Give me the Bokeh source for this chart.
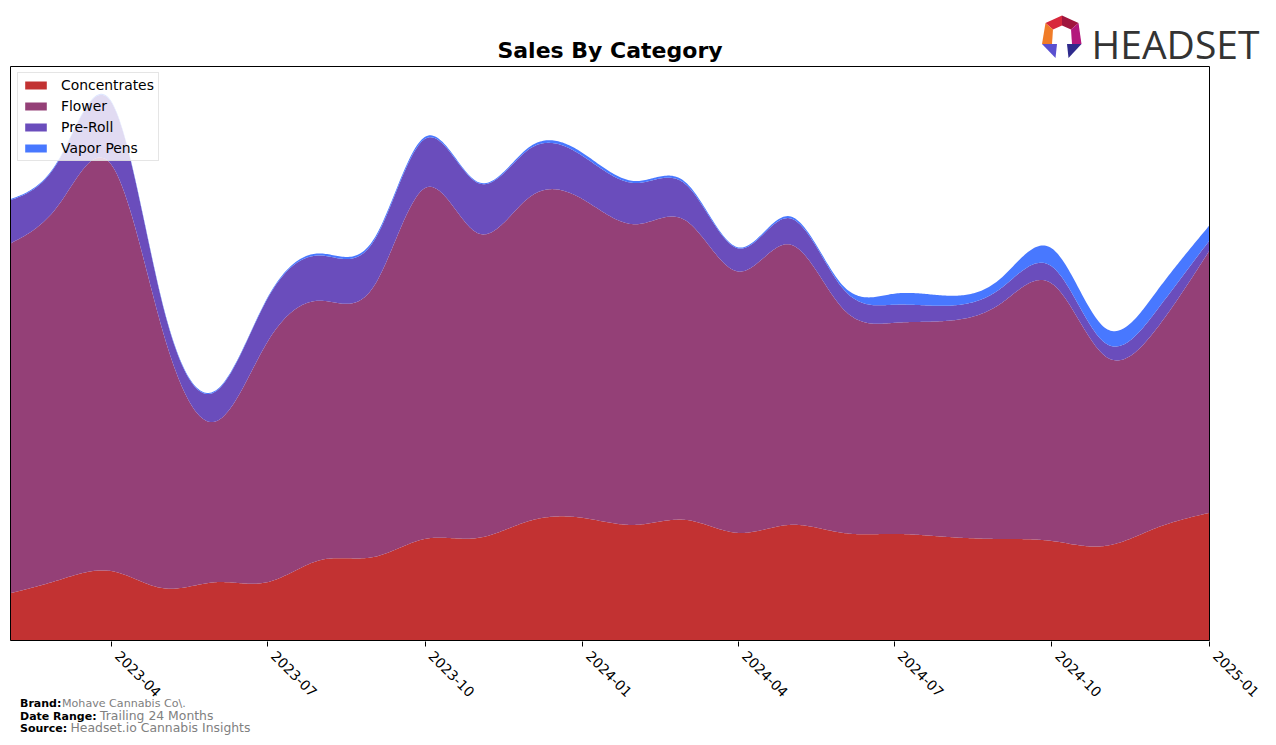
import numpy as np
import pandas as pd
from bokeh.plotting import figure
from bokeh.layouts import column
from bokeh.models import (Range1d, FixedTicker, DatetimeTickFormatter, BoxAnnotation,
                          Legend, LegendItem, ColumnDataSource, DatetimeAxis)
from bokeh.core.properties import value
from bokeh.embed import file_html
from bokeh.resources import INLINE

# ---------------- data ----------------
months = ["2023-02", "2023-03", "2023-04", "2023-05", "2023-06", "2023-07",
          "2023-08", "2023-09", "2023-10", "2023-11", "2023-12", "2024-01",
          "2024-02", "2024-03", "2024-04", "2024-05", "2024-06", "2024-07",
          "2024-08", "2024-09", "2024-10", "2024-11", "2024-12", "2025-01"]
concentrates = [47, 60, 69, 52, 58, 58, 80, 83, 101, 102, 119, 122,
                115, 120, 107, 115, 107, 106, 103, 101, 99, 94, 112, 127]
flower = [348, 373, 404, 255, 160, 239, 258, 269, 349, 303, 322, 317,
          299, 298, 260, 279, 223, 210, 215, 234, 256, 189, 198, 261]
pre_roll = [43, 44, 62, 26, 30, 43, 45, 45, 49, 50, 48, 43,
            41, 36, 23, 26, 20, 18, 15, 15, 17, 13, 18, 10]
vapor_pens = [1, 1, 1, 1, 1, 1, 2, 2, 2, 1, 2, 3,
              2, 2, 1, 2, 3, 11, 10, 10, 18, 15, 19, 15]
categories = ["Concentrates", "Flower", "Pre-Roll", "Vapor Pens"]
tick_labels = ["2023-04", "2023-07", "2023-10", "2024-01",
               "2024-04", "2024-07", "2024-10", "2025-01"]

colors = ["#c23232", "#944077", "#6a4dbc", "#4878ff"]
FONT = "DejaVu Sans"


def spline(xk, yk, xs):
    """natural cubic spline"""
    xk = np.asarray(xk, float)
    yk = np.asarray(yk, float)
    n = len(xk)
    h = np.diff(xk)
    A = np.zeros((n, n))
    b = np.zeros(n)
    A[0, 0] = 1.0
    A[-1, -1] = 1.0
    for i in range(1, n - 1):
        A[i, i - 1] = h[i - 1]
        A[i, i] = 2 * (h[i - 1] + h[i])
        A[i, i + 1] = h[i]
        b[i] = 6 * ((yk[i + 1] - yk[i]) / h[i] - (yk[i] - yk[i - 1]) / h[i - 1])
    M = np.linalg.solve(A, b)
    idx = np.clip(np.searchsorted(xk, xs, side="right") - 1, 0, n - 2)
    x0, x1 = xk[idx], xk[idx + 1]
    hh = x1 - x0
    y0, y1 = yk[idx], yk[idx + 1]
    m0, m1 = M[idx], M[idx + 1]
    return (m0 * (x1 - xs) ** 3 / (6 * hh) + m1 * (xs - x0) ** 3 / (6 * hh)
            + (y0 / hh - m0 * hh / 6) * (x1 - xs) + (y1 / hh - m1 * hh / 6) * (xs - x0))


dates = pd.to_datetime(months)
t0 = dates[0]
days = np.array([(d - t0).days for d in dates], float)
xs_days = np.linspace(days[0], days[-1], 800)
x_ms = t0.value / 1e6 + xs_days * 86400000.0

series = [concentrates, flower, pre_roll, vapor_pens]
smooth = [np.clip(spline(days, s, xs_days), 0, None) for s in series]
bottoms = [np.zeros_like(xs_days)]
for s in smooth:
    bottoms.append(bottoms[-1] + s)
ymax = bottoms[-1].max() * 1.05

# ---------------- geometry (canvas px) ----------------
W, H = 1276, 745
TOP_Y = 65           # canvas y where the chart strip starts
TOP_H = 80           # header strip height (overlapped by the chart strip)
FOOT_Y = 698         # canvas y where the footer strip starts
BOX_L, BOX_R, BOX_T, BOX_B = 10, 1209, 66, 640   # axes box
FRAME_T, FRAME_B = 65, 641
BASE = 0.34          # baseline correction (fraction of font size)


def blank(height, y0, y1, transparent=False):
    f = figure(width=W, height=height, output_backend="svg", toolbar_location=None,
               x_range=Range1d(0, W), y_range=Range1d(y1, y0),
               x_axis_location=None, y_axis_location=None, min_border=0)
    f.outline_line_color = None
    f.grid.visible = False
    if transparent:
        f.background_fill_color = None
        f.border_fill_color = None
    else:
        f.background_fill_color = "white"
        f.border_fill_color = "white"
    return f


def txt(f, cx, cy, text, size, bold=False, color="black", align="left", font=FONT):
    f.text(x=[cx], y=[cy - BASE * size], text=[text], text_font=value(font),
           text_font_size=f"{size}px",
           text_font_style="bold" if bold else "normal", text_color=color,
           text_align=align, text_baseline="alphabetic")


# ---------------- header ----------------
top = blank(TOP_H, 0, TOP_H)
txt(top, 609.5, 57, "Sales By Category", 22, bold=True, align="center")
txt(top, 1091, 56, "HEADSET", 39, color="#333333", font="Open Sans")
logo_polys = [
    ([1061.5, 1045, 1052.5, 1061.5], [15, 22.5, 29, 25], "#d8283c"),
    ([1061.5, 1078, 1070.5, 1061.5], [15, 22.5, 29, 25], "#a0163e"),
    ([1045, 1041.5, 1051.5, 1052.5], [22.5, 43.5, 43.5, 29], "#f07c28"),
    ([1078, 1081, 1071.5, 1070.5], [22.5, 43.5, 43.5, 29], "#b3187c"),
    ([1041.5, 1056.5, 1055], [43.5, 43.5, 57.5], "#5a50d0"),
    ([1066.5, 1081, 1068], [43.5, 43.5, 57.5], "#2e2a8c"),
]
top.patches(xs=[pp[0] for pp in logo_polys], ys=[pp[1] for pp in logo_polys],
            fill_color=[pp[2] for pp in logo_polys], line_color=None)

# ---------------- main chart ----------------
t_start, t_end = x_ms[0], x_ms[-1]
mpp = (t_end - t_start) / (BOX_R - BOX_L)          # ms per pixel
upp = ymax / (BOX_B - BOX_T)                        # units per pixel
p = figure(width=W, height=H - TOP_Y, output_backend="svg", toolbar_location=None,
           x_axis_type="datetime", y_axis_location=None,
           x_range=Range1d(t_start - BOX_L * mpp, t_end + (W - BOX_R) * mpp),
           y_range=Range1d(-(FRAME_B - BOX_B) * upp, ymax + (BOX_T - FRAME_T) * upp),
           min_border_left=0, min_border_right=0,
           min_border_top=0, min_border_bottom=H - FRAME_B)
p.margin = (-(TOP_H - TOP_Y), 0, 0, 0)
p.outline_line_color = None
p.grid.visible = False
p.background_fill_color = "white"
p.border_fill_color = "white"

tick_ms = [pd.Timestamp(t + "-01").value / 1e6 for t in tick_labels]
fmt = "%Y-%m"


def dt_formatter():
    return DatetimeTickFormatter(
        years=fmt, months=fmt, days=fmt, hours=fmt, minutes=fmt, seconds=fmt,
        milliseconds=fmt, microseconds=fmt, hourmin=fmt, minsec=fmt)


# tick marks (labels hidden on this axis)
p.xaxis.ticker = FixedTicker(ticks=tick_ms, minor_ticks=[])
p.xaxis.formatter = dt_formatter()
p.xaxis.axis_line_color = None
p.xaxis.major_tick_line_color = "black"
p.xaxis.major_tick_out = 5
p.xaxis.major_tick_in = 0
p.xaxis.minor_tick_line_color = None
p.xaxis.major_label_text_color = None

# tick labels: second axis, anchored like matplotlib's rotated labels
p.extra_x_ranges = {"lab": Range1d(t_start - (BOX_L + 6) * mpp,
                                   t_end + (W - BOX_R - 6) * mpp)}
lab_axis = DatetimeAxis(x_range_name="lab",
                        ticker=FixedTicker(ticks=tick_ms, minor_ticks=[]),
                        formatter=dt_formatter())
lab_axis.axis_line_color = None
lab_axis.major_tick_line_color = None
lab_axis.major_tick_out = 0
lab_axis.major_tick_in = 0
lab_axis.minor_tick_line_color = None
lab_axis.major_label_orientation = -np.pi / 4
lab_axis.major_label_standoff = 7
lab_axis.major_label_text_font = FONT
lab_axis.major_label_text_font_size = "13.9px"
lab_axis.major_label_text_color = "black"
p.add_layout(lab_axis, "below")

items = []
for i, name in enumerate(categories):
    src = ColumnDataSource(dict(x=x_ms, y1=bottoms[i], y2=bottoms[i + 1]))
    r = p.varea(x="x", y1="y1", y2="y2", source=src, fill_color=colors[i], fill_alpha=1)
    items.append(LegendItem(label=name, renderers=[r]))

p.add_layout(BoxAnnotation(left=t_start, right=t_end, bottom=0, top=ymax,
                           fill_color=None, fill_alpha=0, line_color="black",
                           line_width=1, line_alpha=1))

legend = Legend(items=items)
legend.margin = 0
legend.padding = 4
legend.spacing = 5
legend.glyph_width = 27
legend.glyph_height = 10
legend.label_height = 14
legend.label_standoff = 12
legend.label_text_font = FONT
legend.label_text_font_size = "13.9px"
legend.label_text_color = "black"
legend.background_fill_color = "white"
legend.background_fill_alpha = 0.8
legend.border_line_color = "#cccccc"
legend.border_line_width = 1
legend.location = (BOX_L + 7, FRAME_B - 161)
p.add_layout(legend)

# ---------------- footer (overlaps the bottom strip of the chart) ----------------
foot = blank(H - FOOT_Y, FOOT_Y, H, transparent=True)
foot.margin = (-(H - FOOT_Y), 0, 0, 0)
txt(foot, 19.5, 706.7, "Brand:", 11, bold=True)
txt(foot, 61.5, 706.7, "Mohave Cannabis Co\\.", 11.1, color="#808080")
txt(foot, 19.5, 719.3, "Date Range:", 11, bold=True)
txt(foot, 99.5, 719.3, "Trailing 24 Months", 12.4, color="#808080")
txt(foot, 19.5, 731.7, "Source:", 11, bold=True)
txt(foot, 70, 731.7, "Headset.io Cannabis Insights", 12.4, color="#808080")

layout = column(top, p, foot, spacing=0)
open("out.html", "w").write(file_html(layout, INLINE))
